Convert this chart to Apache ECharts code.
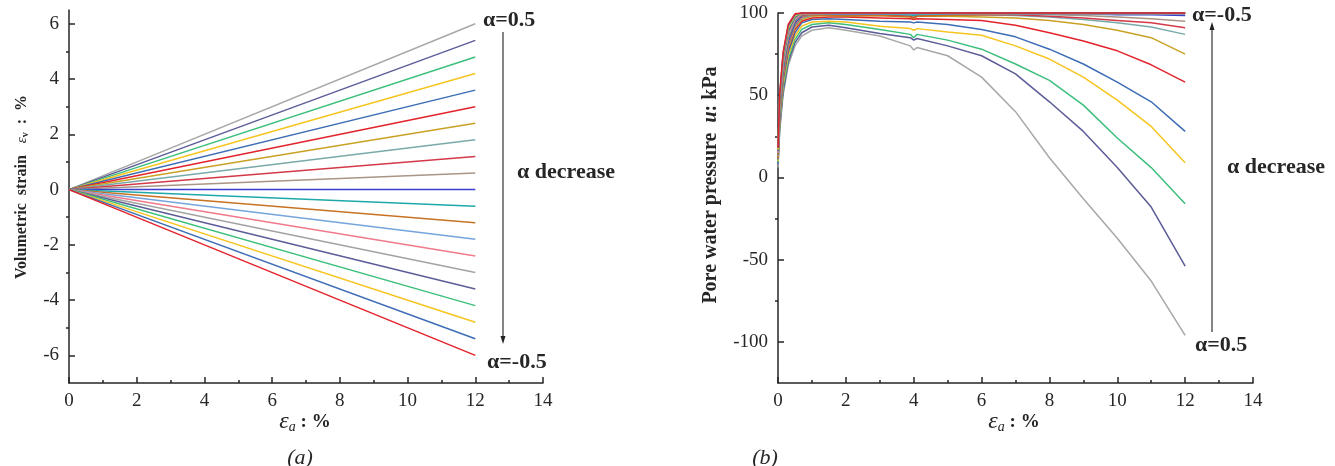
<!DOCTYPE html>
<html>
<head>
<meta charset="utf-8">
<script src="https://cdn.jsdelivr.net/npm/echarts@6/dist/echarts.min.js"></script>
<style>
  html, body { margin: 0; padding: 0; background: #fff; }
  #chart { width: 1335px; height: 466px; }
</style>
</head>
<body>
<div id="chart"></div>
<script>
// (a) volumetric strain lines, end values at ea = 12 %
const leftX = [0, 12];
const leftStart = 0;
const leftEnd = [6, 5.4, 4.8, 4.2, 3.6, 3.0, 2.4, 1.8, 1.2, 0.6, 0, -0.6, -1.2, -1.8, -2.4, -3.0, -3.6, -4.2, -4.8, -5.4, -6];

// (b) pore water pressure curves, alpha = 0.5 ... -0.5
const rightX = [0, 0.05, 0.15, 0.3, 0.5, 0.7, 1, 1.5, 2, 3, 3.9, 4, 4.1, 5, 6, 7, 8, 9, 10, 11, 12];
const u_p50 = [6, 28, 50, 68, 80, 86, 89.5, 91, 89.5, 86, 80, 77.5, 79, 74, 61, 40, 12, -13, -37, -63, -96];
const u_p45 = [8, 30, 52, 70, 82, 88, 91.5, 92.5, 91, 87.5, 85, 83.5, 84.5, 80, 74, 63, 46, 28, 6, -18, -54];
const u_p40 = [9, 32, 55, 72, 84, 90, 93, 94, 93, 90, 87, 85, 87, 83.5, 78, 69, 59, 44, 24, 6, -16];
const u_p35 = [10, 34, 57, 74, 86, 92, 94.5, 95, 94.5, 92, 90.5, 89.5, 90.5, 88.5, 86.5, 80, 72, 61, 47, 31, 9];
const u_p30 = [11, 36, 59, 76, 88, 94, 96, 96.5, 96, 95, 94.5, 94, 94.5, 93, 90, 85.5, 78, 69, 58, 46, 28];
const u_p25 = [12, 38, 61, 78, 90, 95, 97, 97.5, 97.5, 97, 96.5, 96, 96.5, 96, 95.5, 92.5, 88, 83, 77, 68.5, 58];
const u_p20 = [12, 39, 62, 79, 91, 96, 98, 98.5, 98.5, 98.5, 98, 97.5, 98, 98, 97.5, 97, 95.5, 93, 89.5, 85, 75];
const u_p15 = [13, 40, 63, 80, 92, 97, 98.5, 99, 99, 99, 99, 98.5, 99, 99, 99, 98.5, 97.5, 96, 94, 91.5, 87];
const u_p10 = [13, 41, 64, 81, 93, 97.5, 99, 99, 99, 99, 98, 97, 98.5, 99, 99, 99, 98, 97, 95.5, 94, 91];
const u_p05 = [13, 41, 65, 82, 93.5, 98, 99, 99.5, 99.5, 99.5, 99, 99, 99, 99.5, 99.5, 99.5, 99, 98.5, 97.5, 96.5, 95];
const u_000 = [14, 42, 66, 83, 94, 98.5, 99.5, 99.5, 99.5, 99.5, 99.5, 99.5, 99.5, 99.5, 99.5, 99.5, 99.5, 99.5, 99, 99, 98.5];
const u_m05 = [14, 43, 67, 84, 95, 99, 99.5, 99.5, 99.5, 99.5, 99, 98.5, 99, 99.5, 99.5, 99.5, 99.5, 99.5, 99.5, 99.5, 99.5];
const u_m10 = [14, 44, 68, 85, 95.5, 99, 99, 98.5, 98, 98.5, 97.5, 96.5, 98, 98.5, 99, 99.5, 99.5, 99.5, 99.5, 99.5, 99.5];
const u_m15 = [15, 45, 69, 86, 96, 99.5, 99.5, 99.5, 99.5, 99.5, 99.5, 99.5, 99.5, 99.5, 99.5, 99.5, 99.5, 99.5, 99.5, 99.5, 99.5];
const u_m20 = [15, 45, 70, 87, 96.5, 99.5, 100, 100, 100, 100, 100, 100, 100, 100, 100, 100, 100, 100, 100, 100, 100];
const u_m25 = [16, 46, 71, 88, 97, 100, 100, 100, 100, 100, 100, 100, 100, 100, 100, 100, 100, 100, 100, 100, 100];
const u_m30 = [16, 47, 72, 89, 97.5, 100, 100, 100, 100, 100, 100, 100, 100, 100, 100, 100, 100, 100, 100, 100, 100];
const u_m35 = [17, 48, 73, 90, 98, 100, 100, 100, 100, 100, 100, 100, 100, 100, 100, 100, 100, 100, 100, 100, 100];
const u_m40 = [17, 49, 74, 91, 98.5, 100, 100, 100, 100, 100, 100, 100, 100, 100, 100, 100, 100, 100, 100, 100, 100];
const u_m45 = [18, 50, 75, 92, 99, 100, 100, 100, 100, 100, 100, 100, 100, 100, 100, 100, 100, 100, 100, 100, 100];
const u_m50 = [18, 51, 76, 93, 99.5, 100, 100, 100, 100, 100, 100, 100, 100, 100, 100, 100, 100, 100, 100, 100, 100];
const rightCurves = [u_p50, u_p45, u_p40, u_p35, u_p30, u_p25, u_p20, u_p15, u_p10, u_p05, u_000,
  u_m05, u_m10, u_m15, u_m20, u_m25, u_m30, u_m35, u_m40, u_m45, u_m50];

const leftYTicks = [-6, -4, -2, 0, 2, 4, 6];
const leftYMinor = [-5, -3, -1, 1, 3, 5];
const rightYTicks = [-100, -50, 0, 50, 100];
const rightYMinor = [-75, -25, 25, 75];

const colors = ['#a8a8a8', '#5c5c98', '#3dbf7d', '#f6c520', '#3d6db5', '#e2232c', '#c9a124', '#7aa9a9',
  '#d33947', '#a99585', '#3d3dd2', '#1fa8a8', '#c87222', '#75a5dc', '#f07a8a', '#a3a3a3', '#5c5c98',
  '#3dbf7d', '#f6c520', '#3d6db5', '#e2232c'];

const serif = '"Liberation Serif", "DejaVu Serif", serif';
const ink = '#262626';

let chart = echarts.init(document.getElementById('chart'));

function xAxisFor(grid) {
  return {
    type: 'value', gridIndex: grid, min: 0, max: 14, interval: 2,
    axisLine: { show: true, onZero: false, lineStyle: { color: ink, width: 1.5 } },
    axisTick: { show: true, inside: true, length: 6, lineStyle: { color: ink, width: 1.5 } },
    minorTick: { show: true, splitNumber: 2, length: 3, lineStyle: { color: ink, width: 1.5 } },
    axisLabel: { color: ink, fontFamily: serif, fontSize: 19, margin: 9 },
    splitLine: { show: false }
  };
}

function yAxisFor(grid, min, max, major) {
  return {
    type: 'value', gridIndex: grid, min: min, max: max,
    axisLine: { show: true, onZero: false, lineStyle: { color: ink, width: 1.5 } },
    axisTick: { show: true, inside: true, length: 6, customValues: major, lineStyle: { color: ink, width: 1.5 } },
    axisLabel: { show: true, customValues: major, color: ink, fontFamily: serif, fontSize: 19, margin: 10 },
    splitLine: { show: false }
  };
}

function minorY(grid, min, max, minor) {
  return {
    type: 'value', gridIndex: grid, min: min, max: max,
    axisLine: { show: false },
    axisTick: { show: true, inside: true, length: 3, customValues: minor, lineStyle: { color: ink, width: 1.5 } },
    axisLabel: { show: false },
    splitLine: { show: false }
  };
}

let series = [];
leftEnd.forEach((v, i) => {
  series.push({
    type: 'line', xAxisIndex: 0, yAxisIndex: 0, showSymbol: false, silent: true,
    lineStyle: { color: colors[i], width: 1.5 },
    data: [[leftX[0], leftStart], [leftX[1], v]]
  });
});
rightCurves.forEach((vals, i) => {
  series.push({
    type: 'line', xAxisIndex: 1, yAxisIndex: 2, showSymbol: false, silent: true, clip: false,
    lineStyle: { color: colors[i], width: 1.5 },
    data: vals.map((v, j) => [rightX[j], v])
  });
});

function label(x, y, text, size) {
  return {
    type: 'text', x: x, y: y,
    style: { text: text, font: 'bold ' + size + 'px ' + serif, fill: ink, align: 'left', verticalAlign: 'middle' }
  };
}

function arrow(x, y1, y2) {
  const dir = y2 > y1 ? 1 : -1;
  return [
    { type: 'line', shape: { x1: x, y1: y1, x2: x, y2: y2 - dir * 6 }, style: { stroke: '#333', lineWidth: 1.2 } },
    { type: 'polygon', shape: { points: [[x - 2.5, y2 - dir * 8], [x + 2.5, y2 - dir * 8], [x, y2]] }, style: { fill: '#222' } }
  ];
}

function xName(x) {
  return {
    type: 'text', x: x, y: 422,
    style: {
      text: '{e|ε}{s|a} : %', font: 'bold 19px ' + serif, fill: ink, align: 'center', verticalAlign: 'middle',
      rich: {
        e: { fontFamily: serif, fontSize: 24, fontStyle: 'italic' },
        s: { fontFamily: serif, fontSize: 14, fontStyle: 'italic', padding: [11, 0, 0, 0] }
      }
    }
  };
}

const graphics = [
  // y axis names
  {
    type: 'text', x: 22, y: 187, rotation: Math.PI / 2,
    style: {
      text: 'Volumetric  strain   {e|ε}{s|v}  :  %', font: 'bold 16px ' + serif, fill: ink,
      align: 'center', verticalAlign: 'middle',
      rich: {
        e: { fontFamily: serif, fontSize: 15, fontStyle: 'italic', fontWeight: 'normal' },
        s: { fontFamily: serif, fontSize: 10, fontWeight: 'bold', padding: [6, 0, 0, 0] }
      }
    }
  },
  {
    type: 'text', x: 711, y: 185, rotation: Math.PI / 2,
    style: {
      text: 'Pore water pressure  {u|u}: kPa', font: 'bold 20px ' + serif, fill: ink,
      align: 'center', verticalAlign: 'middle',
      rich: { u: { fontFamily: serif, fontSize: 20, fontStyle: 'italic', fontWeight: 'bold' } }
    }
  },
  xName(305),
  xName(1014),
  // panel captions
  { type: 'text', x: 300, y: 458, style: { text: '(a)', font: 'italic 22px ' + serif, fill: ink, align: 'center', verticalAlign: 'middle' } },
  { type: 'text', x: 765, y: 458, style: { text: '(b)', font: 'italic 22px ' + serif, fill: ink, align: 'center', verticalAlign: 'middle' } },
  // annotations (a)
  label(483, 20, 'α=0.5', 22),
  label(487, 362, 'α=-0.5', 22),
  label(517, 172, 'α decrease', 22),
  // annotations (b)
  label(1192, 15, 'α=-0.5', 22),
  label(1195, 345, 'α=0.5', 22),
  label(1227, 167, 'α decrease', 22)
].concat(arrow(503, 32, 344), arrow(1212, 332, 22));

let option = {
  animation: false,
  backgroundColor: '#fff',
  grid: [
    { left: 69, top: 10, width: 474, height: 373 },
    { left: 778, top: 13, width: 475, height: 370 }
  ],
  xAxis: [xAxisFor(0), xAxisFor(1)],
  yAxis: [
    yAxisFor(0, -7, 6.5, leftYTicks),
    minorY(0, -7, 6.5, leftYMinor),
    yAxisFor(1, -125, 100, rightYTicks),
    minorY(1, -125, 100, rightYMinor)
  ],
  graphic: graphics,
  series: series
};

option && chart.setOption(option);
</script>
</body>
</html>
